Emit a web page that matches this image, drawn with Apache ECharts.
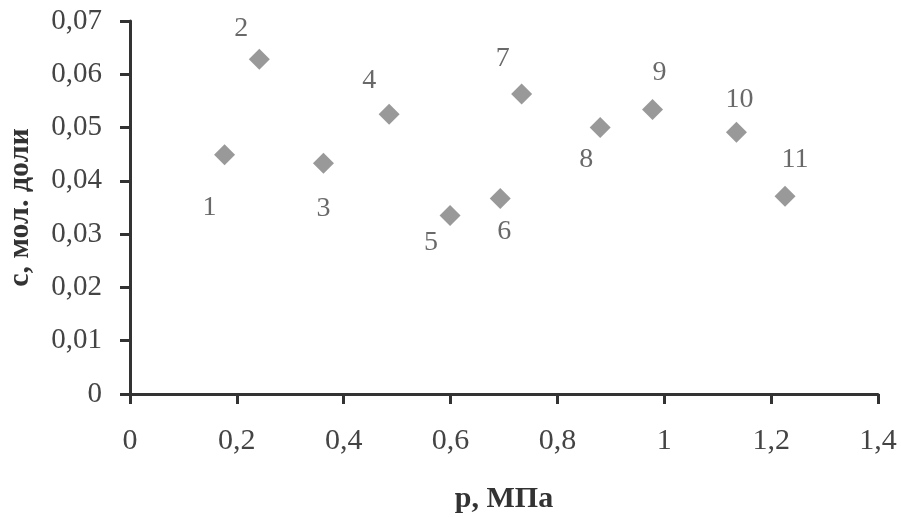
<!DOCTYPE html>
<html>
<head>
<meta charset="utf-8">
<script src="https://cdn.jsdelivr.net/npm/echarts@6/dist/echarts.min.js"></script>
<style>html,body{margin:0;padding:0;background:#fff;}#c{width:901px;height:517px;}</style>
</head>
<body>
<div id="c"></div>
<script>
// Data
var pointLabels = ['1','2','3','4','5','6','7','8','9','10','11'];
var pressure = [0.177, 0.242, 0.362, 0.485, 0.599, 0.693, 0.733, 0.880, 0.978, 1.135, 1.226];
var concentration = [0.0449, 0.0628, 0.0433, 0.0525, 0.0335, 0.0367, 0.0563, 0.0500, 0.0534, 0.0491, 0.0371];
// label offsets (style, px) relative to marker centre
var labelOffsets = [[-15,53],[-18,-31],[0,45],[-20,-34],[-19,27],[4,33],[-19,-35],[-14,32],[7,-37],[3,-33],[10,-37]];

var data = pressure.map(function(p, i){
  return {
    value: [p, concentration[i]],
    label: { show: true, formatter: pointLabels[i], position: 'inside', offset: labelOffsets[i] }
  };
});

var fmt = function(v){ return String(Math.round(v*1000)/1000).replace('.', ','); };
var serif = 'Liberation Serif';
var axisColor = '#333333';

var chart = echarts.init(document.getElementById('c'), null, {renderer:'canvas'});
chart.setOption({
  animation: false,
  backgroundColor: '#ffffff',
  grid: { left: 130, right: 23, top: 21, bottom: 123, containLabel: false, outerBoundsMode: 'none' },
  xAxis: {
    type: 'value', min: 0, max: 1.4, interval: 0.2,
    name: 'p, МПа', nameLocation: 'middle', nameGap: 90,
    nameTextStyle: { fontFamily: serif, fontWeight: 'bold', fontSize: 30, color: '#333' },
    axisLine: { show: true, onZero: false, lineStyle: { color: axisColor, width: 3 } },
    axisTick: { show: true, length: 10, lineStyle: { color: axisColor, width: 3 } },
    axisLabel: { margin: 32, fontFamily: serif, fontSize: 30, color: '#444', formatter: fmt },
    splitLine: { show: false }
  },
  yAxis: {
    type: 'value', min: 0, max: 0.07, interval: 0.01,
    name: 'c, мол. доли', nameLocation: 'middle', nameGap: 95, nameRotate: 90,
    nameTextStyle: { fontFamily: serif, fontWeight: 'bold', fontSize: 30, color: '#333' },
    axisLine: { show: true, onZero: false, lineStyle: { color: axisColor, width: 3 } },
    axisTick: { show: true, length: 10, lineStyle: { color: axisColor, width: 3 } },
    axisLabel: { margin: 28, fontFamily: serif, fontSize: 29, color: '#444', formatter: fmt },
    splitLine: { show: false }
  },
  series: [{
    type: 'scatter',
    symbol: 'diamond',
    symbolSize: 21,
    itemStyle: { color: '#808080' },
    label: { fontFamily: serif, fontSize: 28, color: '#444' },
    data: data
  }]
});
</script>
</body>
</html>
